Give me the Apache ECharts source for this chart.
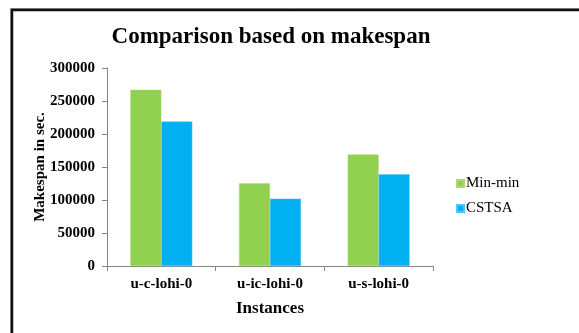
<!DOCTYPE html>
<html>
<head>
<meta charset="utf-8">
<script src="https://cdn.jsdelivr.net/npm/echarts@6/dist/echarts.min.js"></script>
<style>
html,body{margin:0;padding:0;background:#fff;}
#chart{width:579px;height:333px;}
</style>
</head>
<body>
<div id="chart"></div>
<script>
var categories = ['u-c-lohi-0', 'u-ic-lohi-0', 'u-s-lohi-0'];
var minMin = [267000, 125500, 169000];
var cstsa = [219000, 102000, 139000];
var seriesNames = ['Min-min', 'CSTSA'];

var FONT = '"Liberation Serif", "Times New Roman", serif';
var chart = echarts.init(document.getElementById('chart'), null, {renderer: 'canvas'});
chart.setOption({
  animation: false,
  backgroundColor: '#ffffff',
  graphic: [
    {type: 'rect', shape: {x: 10.5, y: 8.5, width: 700, height: 500}, style: {fill: 'none', stroke: '#9a9a9a', lineWidth: 1}, silent: true},
    {type: 'rect', shape: {x: 12, y: 10, width: 700, height: 500}, style: {fill: 'none', stroke: '#111111', lineWidth: 2.5}, silent: true}
  ],
  title: {
    text: 'Comparison based on makespan',
    left: 266, top: 21,
    textAlign: 'center',
    textStyle: {fontFamily: FONT, fontSize: 23, fontWeight: 'bold', color: '#000'}
  },
  legend: {
    orient: 'vertical',
    left: 451, top: 171,
    itemWidth: 7, itemHeight: 7, itemGap: 10,
    icon: 'rect',
    textStyle: {fontFamily: FONT, fontSize: 15, color: '#000', padding: [0, 0, 0, -3]},
    data: seriesNames
  },
  grid: {left: 107, right: 146, top: 68, bottom: 67, containLabel: false},
  xAxis: {
    type: 'category',
    data: categories,
    name: 'Instances',
    nameLocation: 'middle',
    nameGap: 34,
    nameMoveOverlap: false,
    nameTextStyle: {fontFamily: FONT, fontSize: 17, fontWeight: 'bold', color: '#000'},
    axisLine: {lineStyle: {color: '#868686', width: 1}},
    axisTick: {show: true, length: 5, lineStyle: {color: '#868686'}},
    axisLabel: {fontFamily: FONT, fontSize: 15, fontWeight: 'bold', color: '#000', margin: 11}
  },
  yAxis: {
    type: 'value',
    min: 0, max: 300000, interval: 50000,
    name: 'Makespan in sec.',
    nameLocation: 'middle',
    nameGap: 59,
    nameMoveOverlap: false,
    nameTextStyle: {fontFamily: FONT, fontSize: 15, fontWeight: 'bold', color: '#000'},
    axisLine: {show: true, lineStyle: {color: '#868686', width: 1}},
    axisTick: {show: true, length: 5, lineStyle: {color: '#868686'}},
    axisLabel: {fontFamily: FONT, fontSize: 15, fontWeight: 'bold', color: '#000', margin: 12,
      formatter: function (v) { return String(v); }},
    splitLine: {show: false}
  },
  series: [
    {name: seriesNames[0], type: 'bar', data: minMin, barGap: '0%', barCategoryGap: '43%',
     itemStyle: {color: '#92D050', borderColor: '#a8dc72', borderWidth: 0.5}},
    {name: seriesNames[1], type: 'bar', data: cstsa, barGap: '0%', barCategoryGap: '43%',
     itemStyle: {color: '#00B0F0', borderColor: '#4cc8f4', borderWidth: 0.5}}
  ]
});
</script>
</body>
</html>
